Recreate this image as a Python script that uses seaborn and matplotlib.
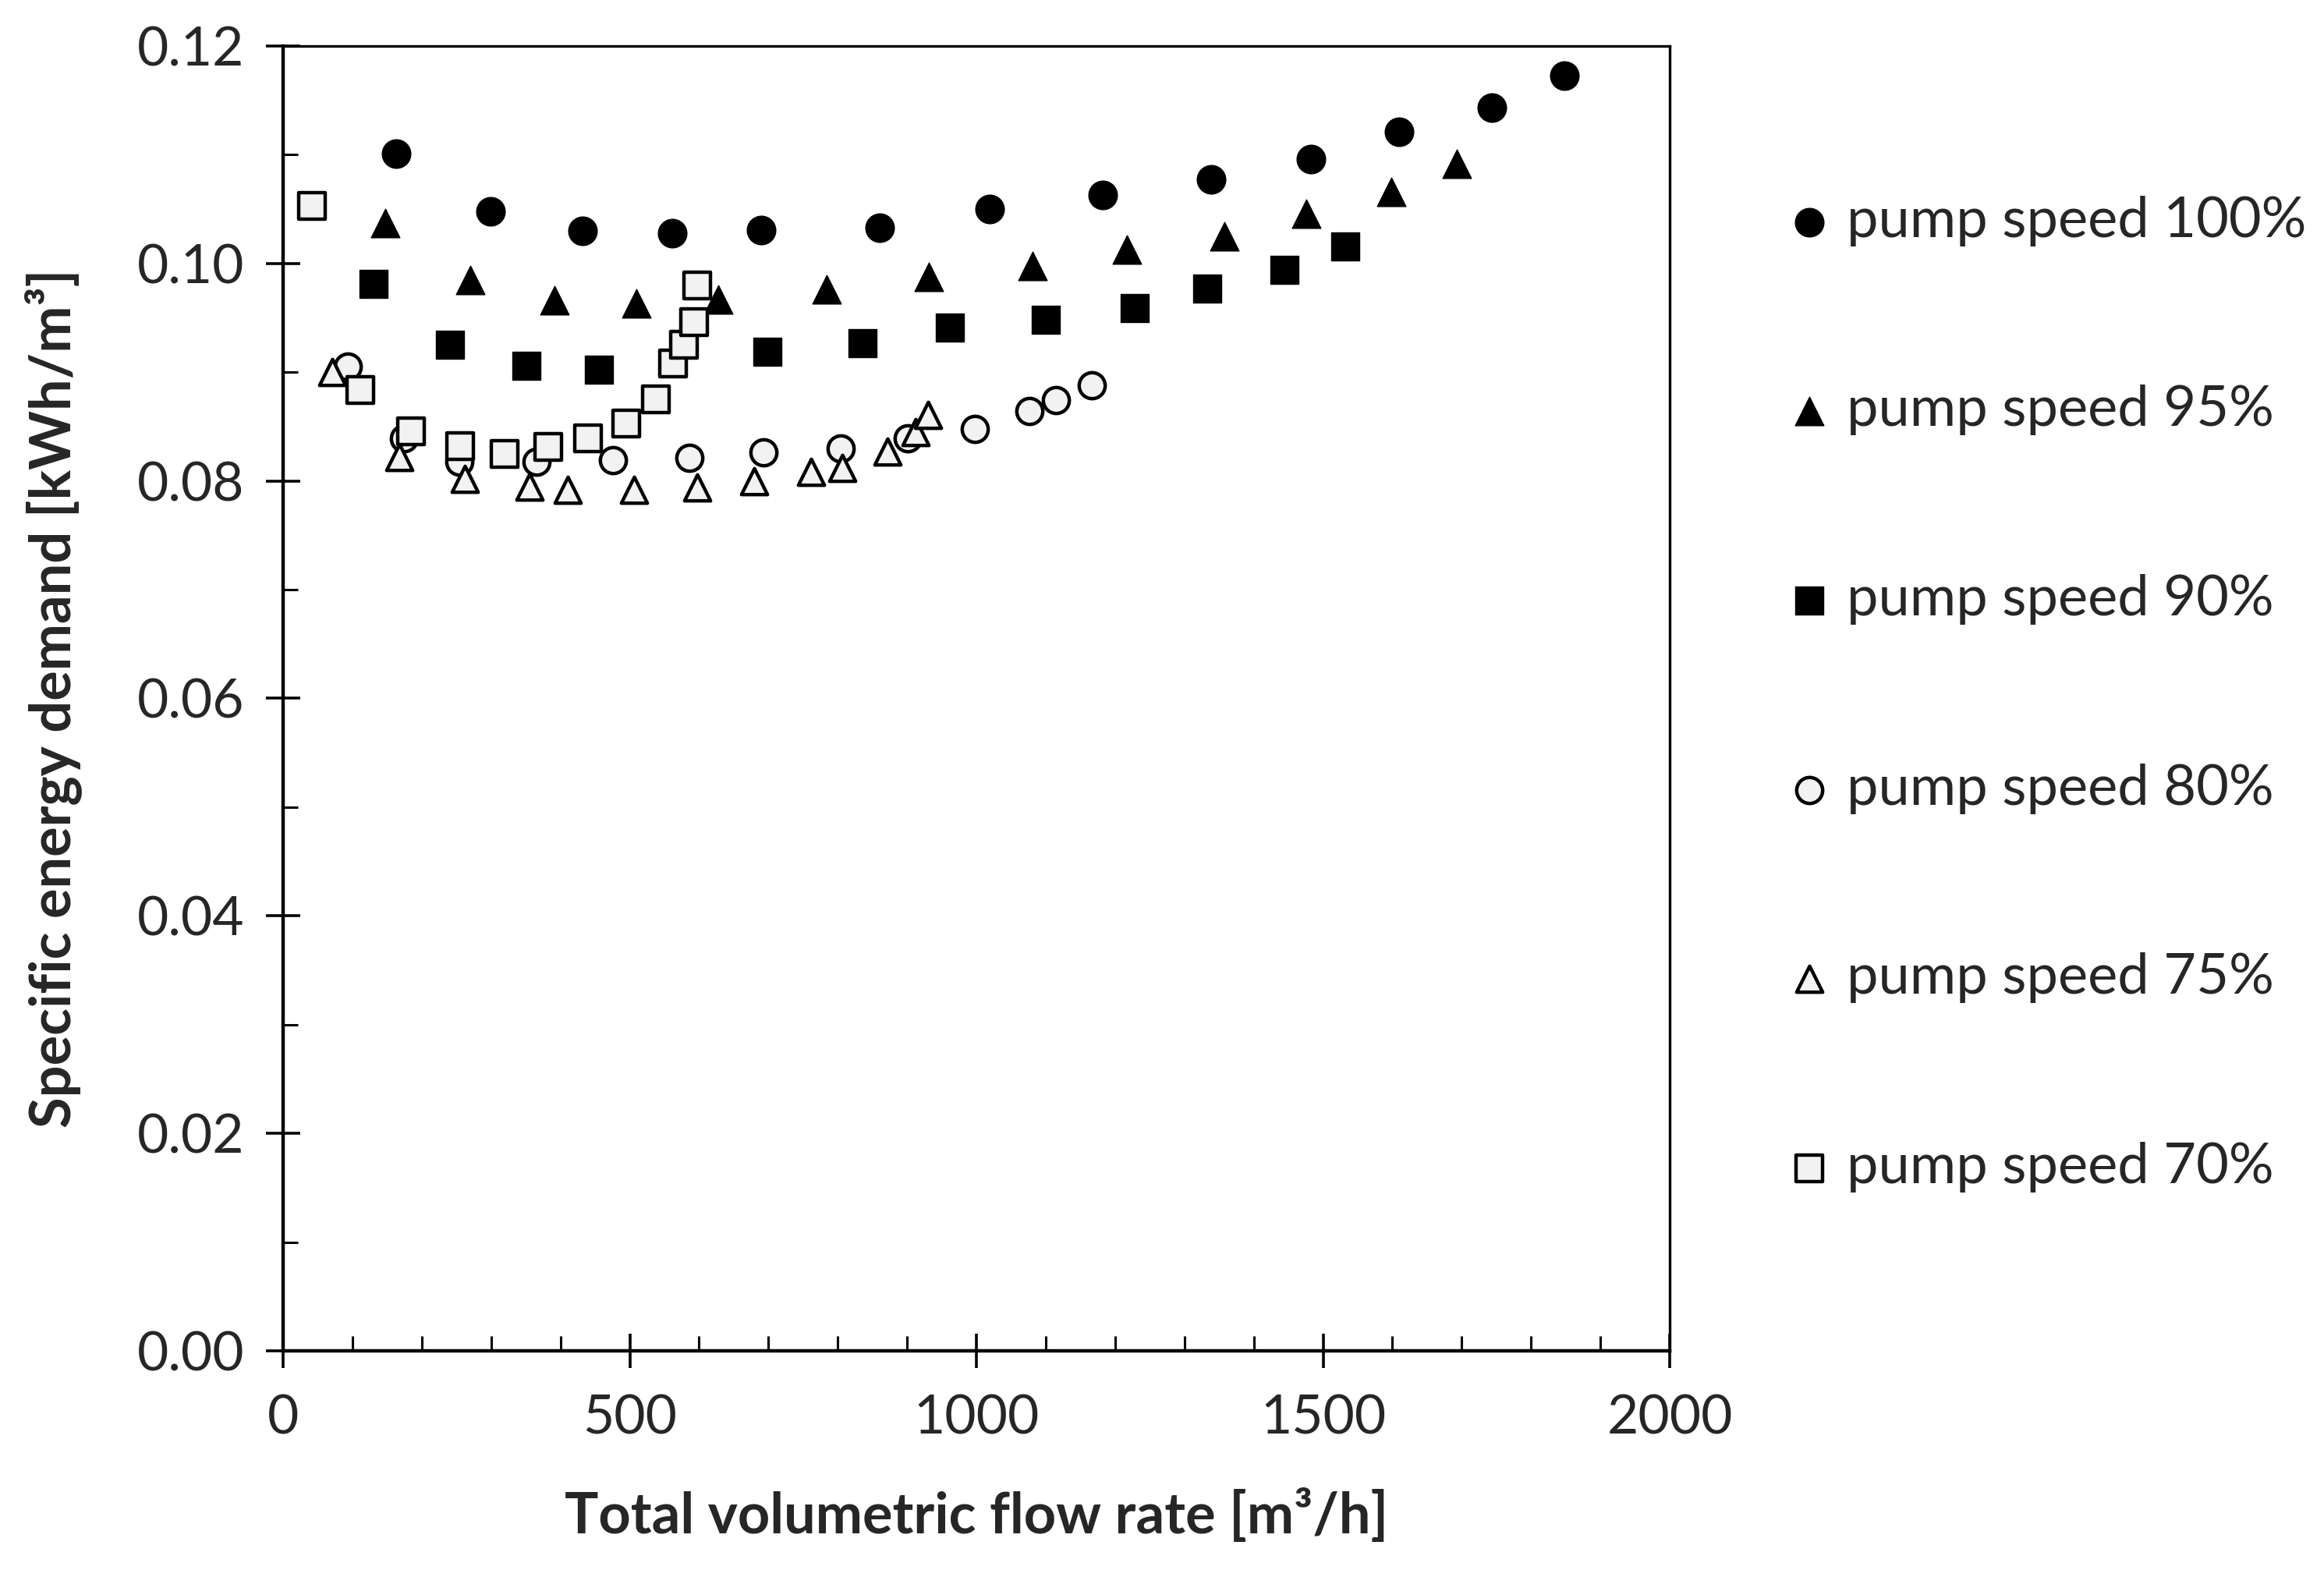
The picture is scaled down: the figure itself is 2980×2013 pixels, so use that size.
import numpy as np
import pandas as pd
import matplotlib
matplotlib.use('Agg')
import matplotlib.pyplot as plt
from matplotlib.ticker import MultipleLocator, FormatStrFormatter
import seaborn as sns

# series: flow rate [m3/h] and specific energy demand [kWh/m3]
flow_100 = [163, 299, 432, 561, 690, 860, 1019, 1182, 1338, 1482, 1610, 1743, 1848]
sed_100 = [0.1101, 0.1048, 0.1030, 0.1028, 0.1031, 0.1033, 0.1050, 0.1063, 0.1077, 0.1096, 0.1121, 0.1143, 0.1173]

flow_95 = [147, 270, 392, 510, 628, 784, 931, 1081, 1217, 1358, 1476, 1598, 1693]
sed_95 = [0.1037, 0.0985, 0.0966, 0.0963, 0.0967, 0.0976, 0.0988, 0.0998, 0.1013, 0.1025, 0.1046, 0.1066, 0.1092]

flow_90 = [130, 241, 351, 456, 698, 836, 962, 1100, 1228, 1333, 1444, 1532]
sed_90 = [0.0981, 0.0925, 0.0906, 0.0902, 0.0919, 0.0927, 0.0941, 0.0948, 0.0959, 0.0977, 0.0994, 0.1016]

flow_80 = [93, 174, 254, 366, 476, 586, 693, 804, 901, 998, 1076, 1115, 1166]
sed_80 = [0.0905, 0.0839, 0.0818, 0.0818, 0.0819, 0.0821, 0.0826, 0.0830, 0.0839, 0.0848, 0.0864, 0.0874, 0.0888]

flow_75 = [71, 168, 262, 355, 411, 506, 597, 679, 762, 807, 872, 912, 930]
sed_75 = [0.0900, 0.0822, 0.0802, 0.0795, 0.0792, 0.0792, 0.0794, 0.0800, 0.0808, 0.0812, 0.0827, 0.0845, 0.0861]

flow_70 = [42, 111, 184, 255, 320, 382, 440, 495, 538, 562, 578, 593, 597]
sed_70 = [0.1053, 0.0884, 0.0846, 0.0832, 0.0825, 0.0831, 0.0839, 0.0853, 0.0875, 0.0908, 0.0925, 0.0946, 0.0980]

labels = ['pump speed 100%', 'pump speed 95%', 'pump speed 90%',
          'pump speed 80%', 'pump speed 75%', 'pump speed 70%']

sns.set_style('ticks')
plt.rcParams['font.family'] = ['Lato', 'DejaVu Sans']

fig = plt.figure(figsize=(14.9, 10.065), dpi=200)
ax = fig.add_axes([0.1218, 0.1396, 0.5967, 0.8311])

series = [
    (flow_100, sed_100, 'o', 'black'),
    (flow_95, sed_95, '^', 'black'),
    (flow_90, sed_90, 's', 'black'),
    (flow_80, sed_80, 'o', '#F2F2F2'),
    (flow_75, sed_75, '^', '#F2F2F2'),
    (flow_70, sed_70, 's', '#F2F2F2'),
]

for (fx, fy, mk, fc), lab in zip(series, labels):
    df = pd.DataFrame({'flow': fx, 'sed': fy})
    if fc == 'black':
        sns.scatterplot(data=df, x='flow', y='sed', marker=mk, s=13.2 ** 2,
                        color='black', edgecolor='black', linewidth=0.5,
                        label=lab, ax=ax, zorder=3)
    else:
        sns.scatterplot(data=df, x='flow', y='sed', marker=mk, s=12.0 ** 2,
                        color=fc, edgecolor='black', linewidth=1.6,
                        label=lab, ax=ax, zorder=3)

ax.set_xlim(0, 2000)
ax.set_ylim(0, 0.12)
ax.xaxis.set_major_locator(MultipleLocator(500))
ax.xaxis.set_minor_locator(MultipleLocator(100))
ax.yaxis.set_major_locator(MultipleLocator(0.02))
ax.yaxis.set_minor_locator(MultipleLocator(0.01))
ax.yaxis.set_major_formatter(FormatStrFormatter('%.2f'))

ax.tick_params(which='major', direction='inout', length=15.8, width=1.3,
               labelsize=25, color='black')
ax.tick_params(axis='x', which='major', pad=12)
ax.tick_params(axis='y', which='major', pad=10)
ax.tick_params(which='minor', direction='in', length=6.8, width=1.1, color='black')

for side in ['left', 'bottom']:
    ax.spines[side].set_linewidth(1.6)
for side in ['top', 'right']:
    ax.spines[side].set_linewidth(1.2)
for sp in ax.spines.values():
    sp.set_color('black')

ax.set_xlabel('Total volumetric flow rate [m³/h]', fontsize=26, fontweight='bold')
ax.set_ylabel('Specific energy demand [kWh/m³]', fontsize=26, fontweight='bold')
ax.xaxis.set_label_coords(0.5, -0.106)
ax.yaxis.set_label_coords(-0.145, 0.5)

ax.legend(loc='center left', bbox_to_anchor=(0.7664, 0.558),
          bbox_transform=fig.transFigure, frameon=False, fontsize=26,
          borderpad=0, borderaxespad=0, handlelength=1.0, handletextpad=0.17,
          labelspacing=2.46, markerscale=1.0)

fig.savefig('out.png', dpi=200, facecolor='white')
